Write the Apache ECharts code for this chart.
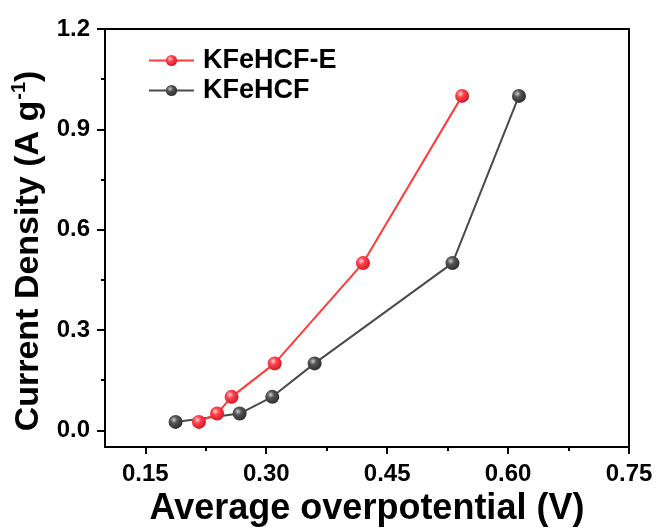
<!DOCTYPE html>
<html>
<head>
<meta charset="utf-8">
<script src="https://cdn.jsdelivr.net/npm/echarts@6/dist/echarts.min.js"></script>
<style>
    html, body { margin: 0; padding: 0; background: #fff; }
    #chart { width: 660px; height: 532px; }
</style>
</head>
<body>
<div id="chart"></div>
<script>
// values
var seriesNames = ['KFeHCF-E', 'KFeHCF'];
var currentDensity = [0.025, 0.05, 0.1, 0.2, 0.5, 1.0];
var overpotE = [0.2165, 0.239, 0.257, 0.3105, 0.420, 0.543];
var overpot = [0.1875, 0.267, 0.3075, 0.360, 0.531, 0.6135];

var xLabels = [0.15, 0.30, 0.45, 0.60, 0.75];
var xMinor = [0.225, 0.375, 0.525, 0.675];
var yLabels = [0.0, 0.3, 0.6, 0.9, 1.2];
var yMinor = [0.15, 0.45, 0.75, 1.05];

var font = 'Liberation Sans, Arial, sans-serif';

function pairs(xs, ys) {
    return xs.map(function (x, i) { return [x, ys[i]]; });
}

function ball(light, mid, dark) {
    return {
        type: 'radial', x: 0.38, y: 0.35, r: 0.7,
        colorStops: [
            { offset: 0, color: light },
            { offset: 0.35, color: mid },
            { offset: 1, color: dark }
        ]
    };
}

var chart = echarts.init(document.getElementById('chart'));

var option = {
    backgroundColor: '#fff',
    animation: false,
    grid: {
        left: 105, right: 31, top: 29, bottom: 81,
        show: true, borderColor: '#000', borderWidth: 2, backgroundColor: 'transparent'
    },
    legend: {
        orient: 'vertical',
        left: 143, top: 42,
        itemWidth: 45, itemHeight: 14, itemGap: 3,
        data: seriesNames,
        textStyle: { fontFamily: font, fontWeight: 'bold', fontSize: 27, color: '#000', padding: [0, 0, 0, 4] }
    },
    xAxis: [
        {
            type: 'value', min: 0.10, max: 0.75,
            name: 'Average overpotential (V)',
            nameLocation: 'middle', nameGap: 44,
            nameTextStyle: { fontFamily: font, fontWeight: 'bold', fontSize: 36, color: '#000' },
            axisLine: { show: true, onZero: false, lineStyle: { color: '#000', width: 2 } },
            axisTick: { show: true, length: 7, lineStyle: { color: '#000', width: 2 }, customValues: xLabels },
            axisLabel: {
                customValues: xLabels, margin: 15,
                fontFamily: font, fontWeight: 'bold', fontSize: 24, color: '#000',
                formatter: function (v) { return v.toFixed(2); }
            },
            splitLine: { show: false }
        },
        {
            type: 'value', min: 0.10, max: 0.75, position: 'bottom',
            axisLine: { show: false, onZero: false },
            axisTick: { show: true, length: 4, lineStyle: { color: '#000', width: 2 }, customValues: xMinor },
            axisLabel: { show: false },
            splitLine: { show: false }
        }
    ],
    yAxis: [
        {
            type: 'value', min: -0.05, max: 1.2,
            name: '{a|Current Density (A g}{s|-1}{a|)}',
            nameLocation: 'middle', nameGap: 56,
            nameTextStyle: {
                padding: [0, 26, 0, 0],
                rich: {
                    a: { fontFamily: font, fontWeight: 'bold', fontSize: 34, color: '#000', lineHeight: 38 },
                    s: { fontFamily: font, fontWeight: 'bold', fontSize: 20, color: '#000', verticalAlign: 'top', lineHeight: 38, padding: [0, 0, 14, 1] }
                }
            },
            axisLine: { show: true, onZero: false, lineStyle: { color: '#000', width: 2 } },
            axisTick: { show: true, length: 8, lineStyle: { color: '#000', width: 2 }, customValues: yLabels },
            axisLabel: {
                customValues: yLabels, margin: 15,
                fontFamily: font, fontWeight: 'bold', fontSize: 24, color: '#000',
                formatter: function (v) { return v.toFixed(1); }
            },
            splitLine: { show: false }
        },
        {
            type: 'value', min: -0.05, max: 1.2, position: 'left',
            axisLine: { show: false, onZero: false },
            axisTick: { show: true, length: 4, lineStyle: { color: '#000', width: 2 }, customValues: yMinor },
            axisLabel: { show: false },
            splitLine: { show: false }
        }
    ],
    series: [
        {
            name: seriesNames[0],
            type: 'line',
            data: pairs(overpotE, currentDensity),
            symbol: 'circle', symbolSize: 14, showSymbol: true,
            lineStyle: { color: '#ff3a3a', width: 2 },
            itemStyle: { color: ball('#ffd6d6', '#ff4550', '#d0141e') },
            z: 3
        },
        {
            name: seriesNames[1],
            type: 'line',
            data: pairs(overpot, currentDensity),
            symbol: 'circle', symbolSize: 14, showSymbol: true,
            lineStyle: { color: '#4a4a4a', width: 2 },
            itemStyle: { color: ball('#cfcfcf', '#555555', '#2a2a2a') },
            z: 2
        }
    ]
};

chart.setOption(option);
</script>
</body>
</html>
